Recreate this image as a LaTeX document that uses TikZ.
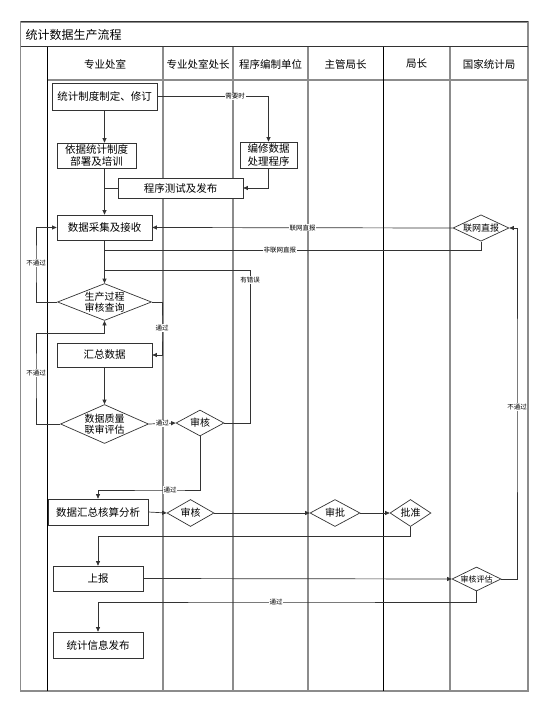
\documentclass[tikz,border=0pt]{standalone}
\usepackage{fontspec}
\setmainfont{Noto Sans CJK SC}
\usetikzlibrary{arrows.meta, shapes.geometric}
\definecolor{cline}{HTML}{333333}
\definecolor{clane}{HTML}{8C8C8C}
\tikzset{
  every picture/.style={line width=0.7pt},
  box/.style={draw=cline, fill=white, align=center, inner sep=0pt, font=\fontsize{10.5}{12.5}\selectfont},
  dia/.style={draw=cline, fill=white, diamond, aspect=#1, inner sep=0pt, align=center, font=\fontsize{10}{11.5}\selectfont},
  dia/.default=2,
  arrow/.style={-{Triangle[length=4.5pt, width=4pt]}, draw=cline},
  link/.style={draw=cline},
  lbl/.style={fill=white, inner sep=0.6pt, font=\fontsize{6.5}{7}\selectfont},
  lane/.style={draw=clane, line width=1.2pt},
  lanedark/.style={draw=black, line width=0.8pt},
  head/.style={font=\fontsize{10.5}{12}\selectfont},
}

\begin{document}
\begin{tikzpicture}[x=1pt, y=-1pt]
  \useasboundingbox (0,0) rectangle (546,711);
  % frame, title and lanes
  \draw[lane] (20.5,22) rectangle (528,691);
  \draw[draw=black!80, line width=1pt] (20.5,22) -- (528,22);
  \draw[draw=black!80, line width=1pt] (20.5,47) -- (528,47);
  \draw[lane] (47,80) -- (528,80);
  \foreach \x/\s in {47/lanedark, 163/lane, 233/lane, 308/lane, 383/lanedark, 450/lane}
    \draw[\s] (\x,47) -- (\x,691);
  \node[anchor=west, font=\fontsize{12}{14}\selectfont] (title) at (22,35) {统计数据生产流程};
  \foreach \x/\t [count=\i] in {105/专业处室, 198/专业处室处长, 270.5/程序编制单位, 345.5/主管局长, 416.5/局长, 489/国家统计局}
    \node[head] (lane\i) at (\x,64) {\t};

  % steps
  \node[box, minimum width=105pt, minimum height=27pt] (rule) at (104.5,96.5) {统计制度制定、修订};
  \node[box, minimum width=79pt, minimum height=25pt] (train) at (96.5,155.5) {依据统计制度\\部署及培训};
  \node[box, minimum width=57pt, minimum height=26pt] (prog) at (268.5,155) {编修数据\\处理程序};
  \node[box, minimum width=125pt, minimum height=20pt] (test) at (180.5,188) {程序测试及发布};
  \node[box, minimum width=95pt, minimum height=25pt] (collect) at (104.5,227.5) {数据采集及接收};
  \node[dia, minimum width=56pt, minimum height=26pt, font=\fontsize{9}{10}\selectfont] (online) at (481,228) {联网直报};
  \node[dia=2.5, minimum width=94pt, minimum height=37pt] (check) at (104.5,302) {生产过程\\审核查询};
  \node[box, minimum width=95pt, minimum height=24pt] (sum) at (104.5,355) {汇总数据};
  \node[dia=2.2, minimum width=88pt, minimum height=38pt] (quality) at (104.5,424) {数据质量\\联审评估};
  \node[dia, minimum width=48pt, minimum height=26pt] (review1) at (200,423) {审核};
  \node[box, minimum width=100pt, minimum height=26pt] (analyse) at (98,512) {数据汇总核算分析};
  \node[dia, minimum width=47pt, minimum height=27pt] (review2) at (190.5,513) {审核};
  \node[dia, minimum width=50pt, minimum height=27pt] (approve) at (335,513) {审批};
  \node[dia, minimum width=41pt, minimum height=27pt] (grant) at (410.5,513) {批准};
  \node[box, minimum width=90pt, minimum height=25pt] (report) at (98,578.5) {上报};
  \node[dia, minimum width=49pt, minimum height=24pt, font=\fontsize{8}{9}\selectfont] (assess) at (476.5,579) {审核评估};
  \node[box, minimum width=90pt, minimum height=26pt] (publish) at (98,645) {统计信息发布};

  % bend points
  \coordinate (j1) at (104.5,250);
  \coordinate (err) at (250,270);
  \coordinate (j2) at (104.5,270);
  \coordinate (loopA) at (36,263);
  \coordinate (passA) at (162,328);
  \coordinate (loopB) at (36,373);
  \coordinate (j3) at (104.5,333);
  \coordinate (passB) at (170,490);
  \coordinate (j4) at (98,536);
  \coordinate (loopC) at (517,407);
  \coordinate (passC) at (276,602);

  % connectors
  \draw[arrow] (rule.east) -| node[lbl, pos=0.35] {需要时} (prog.north);
  \draw[arrow] (rule.south) -- (rule.south |- train.north);
  \draw[arrow] (rule.south |- train.south) -- (collect.north);
  \draw[link] (test.west) -- (test.west -| collect.north);
  \draw[arrow] (prog.south) |- (test.east);
  \draw[arrow] (online.west) -- node[lbl] {联网直报} (collect.east);
  \draw[link] (online.south) |- node[lbl, pos=0.767] {非联网直报} (j1);
  \draw[arrow] (collect.south) -- (check.north);
  \draw[link] (review1.east) -| (err) -- (j2);
  \node[lbl] (errlbl) at (250,280) {有错误};
  \draw[arrow] (check.west) -| (loopA) node[lbl] {不通过} |- (collect.west);
  \draw[arrow] (check.east) -| (passA) node[lbl] {通过} |- (sum.east);
  \draw[arrow] (sum.south) -- (quality.north);
  \draw[arrow] (quality.west) -| (loopB) node[lbl] {不通过} |- (j3) -- (check.south);
  \draw[arrow] (quality.east) -- node[lbl] {通过} (review1.west);
  \draw[arrow] (review1.south) |- (passB) node[lbl] {通过} -| (analyse.north);
  \draw[arrow] (analyse.east) -- (review2.west);
  \draw[arrow] (review2.east) -- (approve.west);
  \draw[arrow] (approve.east) -- (grant.west);
  \draw[arrow] (grant.south) |- (j4) -- (report.north);
  \draw[arrow] (report.east) -- (assess.west);
  \draw[arrow] (assess.east) -| (loopC) node[lbl] {不通过} |- (online.east);
  \draw[arrow] (assess.south) |- (passC) node[lbl] {通过} -| (publish.north);
\end{tikzpicture}
\end{document}
